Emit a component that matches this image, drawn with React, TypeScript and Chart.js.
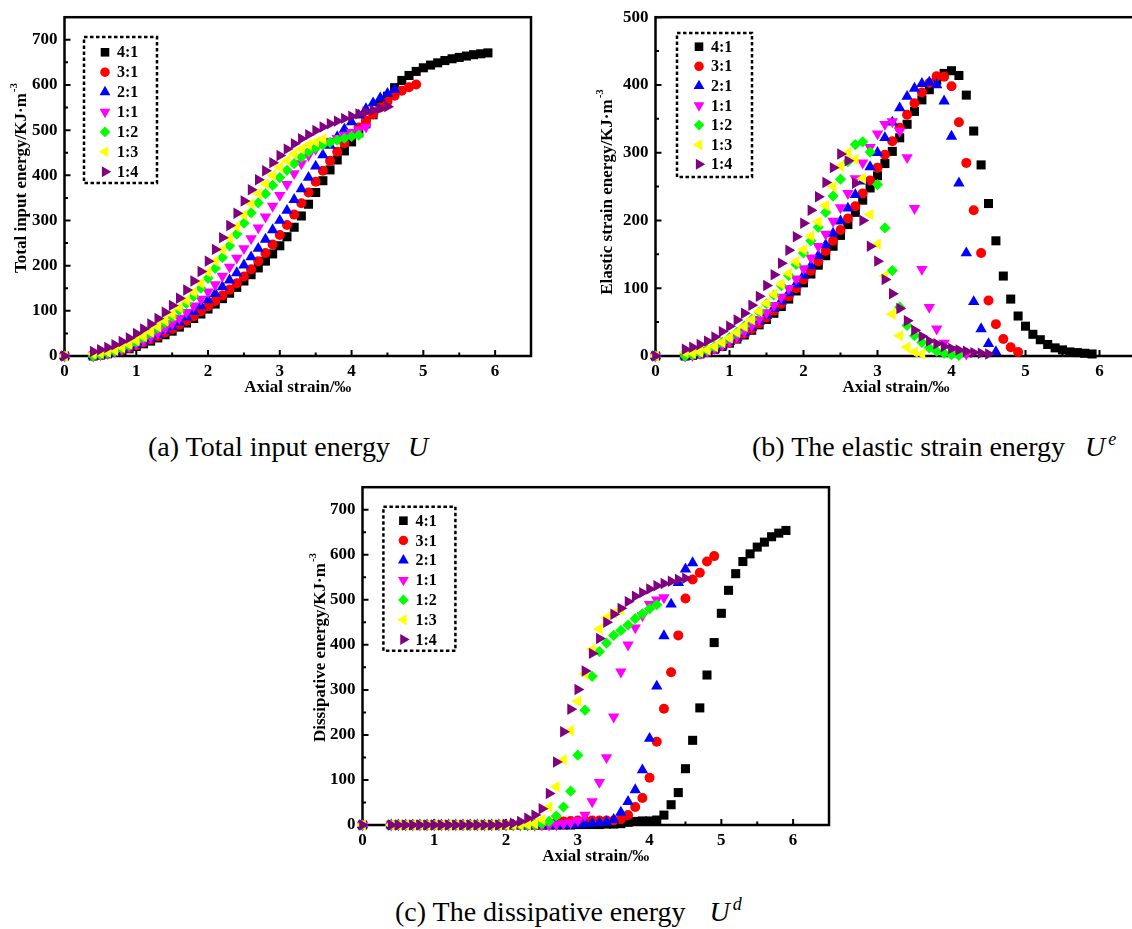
import React, { useEffect, useRef } from "react";
import { Chart, registerables } from "chart.js";

Chart.register(...registerables);

const SERIF = '"Liberation Serif", "Times New Roman", Times, serif';

// Axial strain grid (‰); every specimen uses the leading part of it.
const STRAIN = [
  0, 0.4, 0.5, 0.6, 0.7, 0.8, 0.9, 1.0, 1.1, 1.2, 1.3, 1.4, 1.5, 1.6, 1.7, 1.8, 1.9, 2.0, 2.1, 2.2,
  2.3, 2.4, 2.5, 2.6, 2.7, 2.8, 2.9, 3.0, 3.1, 3.2, 3.3, 3.4, 3.5, 3.6, 3.7, 3.8, 3.9, 4.0, 4.1,
  4.2, 4.3, 4.4, 4.5, 4.6, 4.7, 4.8, 4.9, 5.0, 5.1, 5.2, 5.3, 5.4, 5.5, 5.6, 5.7, 5.8, 5.9,
];

const RATIOS = ["4:1", "3:1", "2:1", "1:1", "1:2", "1:3", "1:4"];
const COLORS = ["#000000", "#ff0000", "#0000ff", "#ff00ff", "#00ff00", "#ffff00", "#800080"];
const MARKERS = ["rect", "circle", "triangle", "triangle", "rectRot", "triangle", "triangle"];
const ROTATIONS = [0, 0, 0, 180, 0, 270, 90];
const RADII = [6.4, 5.0, 6.6, 6.6, 5.6, 6.6, 6.6];

// Total input energy U (kJ·m-3)
const TOTAL_4_1 = [0, 0, 2, 5, 8, 12, 16, 21, 27, 33, 40, 47, 55, 64, 73, 83, 93, 104, 115, 127, 139,
  152, 166, 180, 195, 210, 226, 244, 264, 285, 310, 336, 362, 388, 412, 434, 454, 474, 494, 514, 534,
  555, 575, 594, 610, 621, 630, 638, 644, 649, 654, 658, 661, 664, 667, 669, 671];
const TOTAL_3_1 = [0, 0, 2, 5, 9, 13, 18, 24, 30, 37, 44, 52, 60, 69, 78, 88, 99, 110, 122, 134, 147,
  161, 176, 192, 210, 228, 247, 268, 290, 313, 338, 362, 386, 410, 432, 452, 471, 489, 506, 521, 535,
  550, 563, 576, 587, 595, 601];
const TOTAL_2_1 = [0, 0, 2, 5, 9, 14, 19, 25, 32, 39, 47, 56, 65, 75, 86, 98, 111, 124, 138, 153, 168,
  184, 201, 219, 238, 258, 279, 300, 322, 346, 370, 395, 420, 445, 466, 485, 502, 518, 533, 547, 560,
  571, 581, 590];
const TOTAL_1_1 = [0, 0, 3, 6, 10, 15, 21, 27, 34, 42, 51, 61, 72, 84, 97, 111, 126, 142, 158, 177, 197,
  217, 238, 260, 284, 308, 332, 356, 380, 404, 426, 444, 458, 468, 476, 482, 489, 495, 501, 507];
const TOTAL_1_2 = [0, 0, 3, 7, 11, 17, 24, 32, 41, 51, 62, 74, 87, 101, 116, 132, 150, 172, 194, 218, 244,
  270, 294, 317, 339, 359, 378, 395, 411, 426, 440, 452, 461, 468, 473, 478, 482, 486, 489];
const TOTAL_1_3 = [0, 5, 6, 9, 13, 19, 26, 34, 43, 53, 65, 78, 92, 107, 123, 141, 161, 186, 210, 235, 260,
  286, 312, 337, 360, 381, 400, 418, 433, 447, 458, 467, 474, 480];
const TOTAL_1_4 = [0, 10, 14, 19, 25, 32, 40, 50, 60, 71, 83, 97, 112, 128, 146, 166, 187, 210, 236, 262, 289,
  316, 343, 368, 390, 410, 428, 444, 458, 470, 481, 490, 499, 507, 514, 520, 526, 531, 536, 540, 544,
  548, 552];

// Elastic strain energy Ue (kJ·m-3)
const ELASTIC_4_1 = [0, 0, 1, 3, 6, 10, 14, 19, 25, 31, 38, 46, 54, 63, 73, 84, 96, 108, 121, 134, 148,
  162, 178, 194, 212, 230, 248, 266, 284, 302, 322, 342, 361, 378, 393, 407, 417, 421, 414, 385, 332,
  282, 225, 170, 118, 84, 59, 44, 32, 24, 17, 12, 9, 6, 5, 4, 3];
const ELASTIC_3_1 = [0, 0, 1, 3, 6, 10, 15, 20, 26, 33, 40, 48, 57, 67, 77, 88, 100, 113, 126, 140, 155,
  170, 186, 203, 221, 240, 259, 278, 297, 317, 337, 356, 373, 389, 403, 413, 412, 398, 345, 285, 215,
  152, 82, 47, 25, 13, 6];
const ELASTIC_2_1 = [0, 0, 1, 3, 6, 10, 15, 21, 27, 34, 42, 51, 60, 70, 81, 93, 106, 119, 133, 148, 164,
  181, 199, 218, 238, 258, 279, 300, 322, 345, 366, 383, 395, 402, 404, 400, 376, 324, 255, 152, 80,
  40, 18, 6];
const ELASTIC_1_1 = [0, 0, 1, 4, 7, 11, 16, 22, 29, 36, 45, 54, 64, 75, 87, 100, 114, 129, 145, 162, 180,
  199, 219, 240, 262, 285, 308, 328, 342, 346, 332, 293, 218, 128, 72, 40, 19, 10, 5, 3];
const ELASTIC_1_2 = [0, 0, 2, 5, 9, 14, 20, 27, 35, 44, 54, 65, 77, 90, 104, 119, 135, 152, 170, 190, 212,
  236, 261, 287, 312, 316, 301, 253, 189, 126, 72, 45, 30, 20, 12, 7, 4, 2, 1];
const ELASTIC_1_3 = [0, 5, 4, 6, 9, 14, 20, 27, 35, 44, 54, 66, 78, 91, 106, 122, 139, 157, 177, 198, 222,
  250, 280, 300, 290, 262, 209, 165, 118, 62, 30, 13, 6, 3];
const ELASTIC_1_4 = [0, 10, 13, 17, 22, 28, 36, 44, 53, 63, 75, 88, 104, 120, 137, 156, 176, 196, 215, 235, 256,
  278, 298, 288, 255, 200, 162, 140, 113, 92, 70, 52, 38, 29, 22, 18, 14, 11, 9, 7, 5, 4, 3];

// Dissipative energy Ud (kJ·m-3)
const DISSIP_4_1 = [0, 0, 0, 0, 0, 0, 0, 0, 0, 0, 0, 0, 0, 0, 0, 0, 0, 0, 0, 0, 0,
  0, 0, 0, 0, 0, 0, 1, 1, 1, 1, 2, 2, 3, 6, 8, 9, 9, 11, 22, 45,
  72, 125, 188, 260, 333, 405, 470, 521, 558, 585, 602, 617, 628, 640, 648, 654];
const DISSIP_3_1 = [0, 0, 0, 0, 0, 0, 0, 0, 0, 0, 0, 0, 0, 0, 0, 0, 0, 0, 0, 0, 0,
  0, 0, 2, 5, 8, 9, 10, 10, 10, 10, 10, 10, 13, 22, 40, 60, 105, 185, 258, 339,
  421, 503, 545, 560, 585, 597];
const DISSIP_2_1 = [0, 0, 0, 0, 0, 0, 0, 0, 0, 0, 0, 0, 0, 0, 0, 0, 0, 0, 0, 0, 0,
  0, 0, 0, 0, 0, 0, 1, 3, 4, 5, 7, 12, 28, 52, 78, 122, 192, 308, 420, 490,
  538, 568, 582];
const DISSIP_1_1 = [0, 0, 0, 0, 0, 0, 0, 0, 0, 0, 0, 0, 0, 0, 0, 0, 0, 0, 0, 0, 0,
  0, 0, 0, 1, 3, 5, 10, 22, 52, 95, 150, 240, 340, 400, 438, 465, 490, 500, 505];
const DISSIP_1_2 = [0, 0, 0, 0, 0, 0, 0, 0, 0, 0, 0, 0, 0, 0, 0, 0, 0, 0, 0, 0, 0,
  1, 3, 8, 20, 40, 75, 155, 255, 330, 385, 404, 421, 432, 444, 458, 469, 480, 489];
const DISSIP_1_3 = [0, 0, 0, 0, 0, 0, 0, 0, 0, 0, 0, 0, 0, 0, 0, 0, 0, 0, 0, 0, 1,
  3, 12, 40, 85, 145, 210, 275, 335, 390, 435, 460, 470, 477];
const DISSIP_1_4 = [0, 0, 0, 0, 0, 0, 0, 0, 0, 0, 0, 0, 0, 0, 0, 0, 0, 2, 4, 8, 15,
  22, 36, 70, 140, 207, 257, 301, 342, 381, 414, 450, 468, 481, 496, 508, 516, 524, 531, 536, 541,
  545, 548];

const X_TICKS = [0, 1, 2, 3, 4, 5, 6];
const X_MINOR = [0.5, 1.5, 2.5, 3.5, 4.5, 5.5];
const Y_TICKS_700 = [0, 100, 200, 300, 400, 500, 600, 700];
const Y_MINOR_700 = [50, 150, 250, 350, 450, 550, 650];
const Y_TICKS_500 = [0, 100, 200, 300, 400, 500];
const Y_MINOR_500 = [50, 150, 250, 350, 450];

const X_TITLE = "Axial strain/\u2030";

type Panel = {
  left: number; top: number; w: number; h: number;
  area: { l: number; r: number; t: number; b: number };
  yMax: number; yTicks: number[]; yMinor: number[];
  series: number[][];
  yTitle: string; yTitleX: number; yTitleY: number; xTitleY: number;
  legend: { x: number; y: number; w: number; h: number; mx: number; tx: number; row0: number; step: number };
};

const PANELS: Panel[] = [
  {
    left: 0, top: 0, w: 560, h: 400,
    area: { l: 64.5, r: 531, t: 12, b: 356 },
    yMax: 750, yTicks: Y_TICKS_700, yMinor: Y_MINOR_700,
    series: [TOTAL_4_1, TOTAL_3_1, TOTAL_2_1, TOTAL_1_1, TOTAL_1_2, TOTAL_1_3, TOTAL_1_4],
    yTitle: "Total input energy/KJ\u00b7m", yTitleX: 20, yTitleY: 178, xTitleY: 388,
    legend: { x: 84, y: 37, w: 73, h: 146, mx: 21, tx: 33, row0: 15.3, step: 19.9 },
  },
  {
    left: 590, top: 0, w: 560, h: 400,
    area: { l: 65.5, r: 546.5, t: 14, b: 356 },
    yMax: 500, yTicks: Y_TICKS_500, yMinor: Y_MINOR_500,
    series: [ELASTIC_4_1, ELASTIC_3_1, ELASTIC_2_1, ELASTIC_1_1, ELASTIC_1_2, ELASTIC_1_3, ELASTIC_1_4],
    yTitle: "Elastic strain energy/KJ\u00b7m", yTitleX: 15.5, yTitleY: 192, xTitleY: 388,
    legend: { x: 87, y: 33, w: 75, h: 144, mx: 22, tx: 34, row0: 13.7, step: 19.6 },
  },
  {
    left: 300, top: 470, w: 560, h: 400,
    area: { l: 62.5, r: 529, t: 12, b: 355 },
    yMax: 750, yTicks: Y_TICKS_700, yMinor: Y_MINOR_700,
    series: [DISSIP_4_1, DISSIP_3_1, DISSIP_2_1, DISSIP_1_1, DISSIP_1_2, DISSIP_1_3, DISSIP_1_4],
    yTitle: "Dissipative energy/KJ\u00b7m", yTitleX: 19, yTitleY: 177.5, xTitleY: 387,
    legend: { x: 83.4, y: 36.7, w: 72, h: 144, mx: 20, tx: 32, row0: 14, step: 19.8 },
  },
];

const CAPTIONS = [
  { left: 148, top: 432.5, text: "(a) Total input energy", gap: 18, sup: "" },
  { left: 752, top: 432.5, text: "(b) The elastic strain energy", gap: 20, sup: "e" },
  { left: 395, top: 897.5, text: "(c) The dissipative energy", gap: 24, sup: "d" },
];

function drawMarker(ctx: CanvasRenderingContext2D, style: string, rotation: number, r: number, x: number, y: number, color: string) {
  ctx.save();
  ctx.fillStyle = color;
  ctx.beginPath();
  if (style === "rect") {
    const s = r * Math.SQRT1_2;
    ctx.rect(x - s, y - s, 2 * s, 2 * s);
  } else if (style === "circle") {
    ctx.arc(x, y, r, 0, Math.PI * 2);
  } else if (style === "rectRot") {
    ctx.moveTo(x - r, y);
    ctx.lineTo(x, y - r);
    ctx.lineTo(x + r, y);
    ctx.lineTo(x, y + r);
    ctx.closePath();
  } else {
    let a = (rotation * Math.PI) / 180;
    ctx.moveTo(x + Math.sin(a) * r, y - Math.cos(a) * r);
    for (let k = 0; k < 2; k++) {
      a += (2 * Math.PI) / 3;
      ctx.lineTo(x + Math.sin(a) * r, y - Math.cos(a) * r);
    }
    ctx.closePath();
  }
  ctx.fill();
  ctx.restore();
}

function panelDecor(p: Panel) {
  return {
    id: "panelDecor",
    beforeDatasetsDraw(chart: any) {
      const { ctx, chartArea: a, scales } = chart;
      ctx.save();
      ctx.strokeStyle = "#000";
      ctx.lineWidth = 2.5;
      ctx.strokeRect(a.left, a.top, a.right - a.left, a.bottom - a.top);
      ctx.lineWidth = 2;
      ctx.beginPath();
      const tick = (vals: number[], len: number, horizontal: boolean) => {
        for (const v of vals) {
          if (horizontal) {
            const px = scales.x.getPixelForValue(v);
            ctx.moveTo(px, a.bottom);
            ctx.lineTo(px, a.bottom - len);
          } else {
            const py = scales.y.getPixelForValue(v);
            ctx.moveTo(a.left, py);
            ctx.lineTo(a.left + len, py);
          }
        }
      };
      tick(X_TICKS, 6, true);
      tick(X_MINOR, 3.5, true);
      tick(p.yTicks, 6, false);
      tick(p.yMinor, 3.5, false);
      ctx.stroke();
      ctx.restore();
    },
    afterDraw(chart: any) {
      const { ctx, chartArea: a } = chart;
      ctx.save();
      ctx.fillStyle = "#000";
      // x axis title
      ctx.font = `bold 17px ${SERIF}`;
      ctx.textAlign = "center";
      ctx.textBaseline = "middle";
      ctx.fillText(X_TITLE, (a.left + a.right) / 2, p.xTitleY);
      // y axis title with unit exponent
      ctx.save();
      ctx.translate(p.yTitleX, p.yTitleY);
      ctx.rotate(-Math.PI / 2);
      ctx.textAlign = "left";
      ctx.textBaseline = "alphabetic";
      ctx.font = `bold 17px ${SERIF}`;
      const wMain = ctx.measureText(p.yTitle).width;
      ctx.font = `bold 11px ${SERIF}`;
      const wSup = ctx.measureText("-3").width;
      const start = -(wMain + wSup + 1) / 2;
      ctx.font = `bold 17px ${SERIF}`;
      ctx.fillText(p.yTitle, start, 6);
      ctx.font = `bold 11px ${SERIF}`;
      ctx.fillText("-3", start + wMain + 1, -3);
      ctx.restore();
      // legend box
      const L = p.legend;
      ctx.strokeStyle = "#000";
      ctx.lineWidth = 2.5;
      ctx.setLineDash([3.5, 2.5]);
      ctx.strokeRect(L.x, L.y, L.w, L.h);
      ctx.setLineDash([]);
      ctx.font = `bold 16px ${SERIF}`;
      ctx.textAlign = "left";
      ctx.textBaseline = "middle";
      chart.data.datasets.forEach((ds: any, i: number) => {
        const y = L.y + L.row0 + i * L.step;
        drawMarker(ctx, MARKERS[i], ROTATIONS[i], RADII[i] * 0.95, L.x + L.mx, y, COLORS[i]);
        ctx.fillStyle = "#000";
        ctx.fillText(ds.label, L.x + L.tx, y + 1);
      });
      ctx.restore();
    },
  };
}

function EnergyPanel({ p }: { p: Panel }) {
  const ref = useRef<HTMLCanvasElement>(null);
  useEffect(() => {
    if (!ref.current) return;
    const tickFont = { family: SERIF, size: 17, weight: "bold" as const };
    const chart = new Chart(ref.current, {
      type: "scatter",
      data: {
        datasets: p.series.map((vals, i) => ({
          label: RATIOS[i],
          data: vals.map((v, k) => ({ x: STRAIN[k], y: v })),
          showLine: false,
          pointStyle: MARKERS[i] as any,
          pointRotation: ROTATIONS[i],
          pointRadius: RADII[i],
          pointHoverRadius: RADII[i],
          pointBackgroundColor: COLORS[i],
          pointBorderColor: COLORS[i],
          pointBorderWidth: 0,
          order: RATIOS.length - i,
          clip: false as any,
        })),
      },
      options: {
        animation: false,
        responsive: false,
        maintainAspectRatio: false,
        devicePixelRatio: 1,
        events: [],
        layout: { padding: { left: 0, top: p.area.t, right: p.w - p.area.r, bottom: 0 } },
        plugins: { legend: { display: false }, tooltip: { enabled: false } },
        scales: {
          x: {
            type: "linear",
            min: 0,
            max: 6.5,
            afterBuildTicks: (s: any) => { s.ticks = X_TICKS.map((value) => ({ value })); },
            afterFit: (s: any) => { s.height = p.h - p.area.b; },
            grid: { display: false, drawTicks: false },
            border: { display: false },
            ticks: { color: "#000", font: tickFont, padding: 5, maxRotation: 0, autoSkip: false },
          },
          y: {
            type: "linear",
            min: 0,
            max: p.yMax,
            afterBuildTicks: (s: any) => { s.ticks = p.yTicks.map((value) => ({ value })); },
            afterFit: (s: any) => { s.width = p.area.l; },
            grid: { display: false, drawTicks: false },
            border: { display: false },
            ticks: { color: "#000", font: tickFont, padding: 7, autoSkip: false },
          },
        },
      },
      plugins: [panelDecor(p)],
    });
    return () => chart.destroy();
  }, [p]);
  return (
    <canvas
      ref={ref}
      width={p.w}
      height={p.h}
      style={{ position: "absolute", left: p.left, top: p.top, width: p.w, height: p.h }}
    />
  );
}

export default function App() {
  return (
    <div style={{ position: "absolute", left: 0, top: 0, width: 1132, height: 929, overflow: "hidden", background: "#fff" }}>
      {PANELS.map((p, i) => (
        <EnergyPanel key={i} p={p} />
      ))}
      {CAPTIONS.map((c, i) => (
        <div
          key={i}
          style={{ position: "absolute", left: c.left, top: c.top, fontFamily: SERIF, fontSize: 28, lineHeight: "28px", whiteSpace: "nowrap", color: "#000" }}
        >
          {c.text}
          <span style={{ fontStyle: "italic", marginLeft: c.gap }}>U</span>
          {c.sup ? (
            <span style={{ fontStyle: "italic", fontSize: 18, position: "relative", top: -11, marginLeft: 3 }}>{c.sup}</span>
          ) : null}
        </div>
      ))}
    </div>
  );
}
